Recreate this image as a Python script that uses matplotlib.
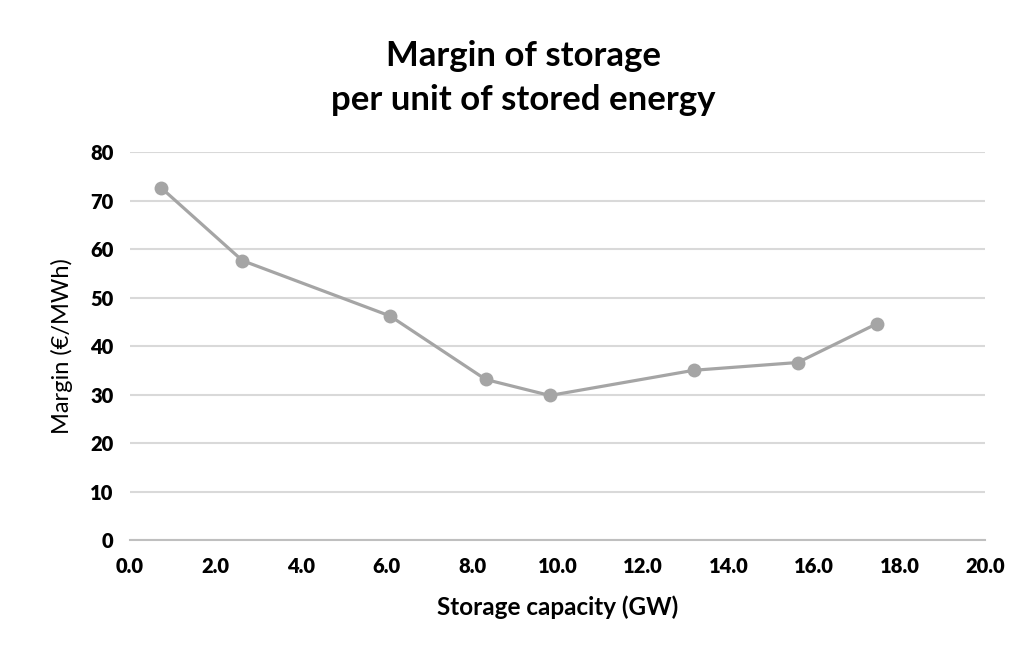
import matplotlib.pyplot as plt

plt.rcParams['font.family'] = ['Lato', 'DejaVu Sans']

capacity = [0.73, 2.63, 6.08, 8.32, 9.82, 13.19, 15.62, 17.47]
margin = [72.6, 57.6, 46.2, 33.1, 29.8, 35.0, 36.6, 44.6]

xticks = [0, 2, 4, 6, 8, 10, 12, 14, 16, 18, 20]
yticks = [0, 10, 20, 30, 40, 50, 60, 70, 80]

fig = plt.figure(figsize=(10.28, 6.58), dpi=100)
ax = fig.add_axes([0.1265, 0.1793, 0.8317, 0.5897])

ax.plot(capacity, margin, color='#A5A5A5', lw=2.3, marker='o', ms=10,
        markeredgewidth=0, zorder=3)

ax.set_xlim(0, 20)
ax.set_ylim(0, 80)
ax.tick_params(length=0, colors='#000000', pad=12)
ax.set_xticks(xticks)
ax.set_xticklabels(['%.1f' % t for t in xticks], fontsize=14.5, fontweight='heavy')
ax.set_yticks(yticks)
ax.set_yticklabels([str(t) for t in yticks], fontsize=14.5, fontweight='heavy')
ax.grid(axis='y', color='#D9D9D9', lw=1.5)
ax.set_axisbelow(True)
for s in ['top', 'right', 'left']:
    ax.spines[s].set_visible(False)
ax.spines['bottom'].set_color('#BFBFBF')
ax.spines['bottom'].set_linewidth(1.5)

ax.set_xlabel('Storage capacity (GW)', fontsize=17.5, fontweight='bold', labelpad=14)
ax.set_ylabel('Margin (€/MWh)', fontsize=17, labelpad=12)

fig.text(523 / 1028, 1 - 78 / 658, 'Margin of storage\nper unit of stored energy',
         ha='center', va='center', fontsize=25, fontweight='bold', linespacing=1.45)

fig.savefig('out.png', dpi=100)
